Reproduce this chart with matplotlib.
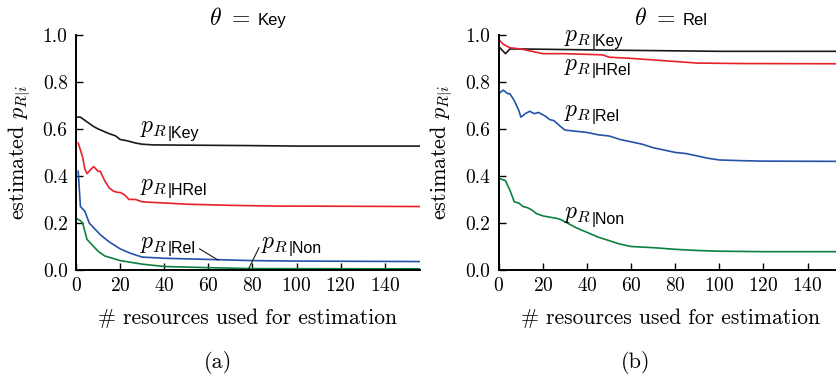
import numpy as np
import matplotlib
matplotlib.use("Agg")
import matplotlib.pyplot as plt

plt.rcParams['font.family'] = 'serif'
plt.rcParams['font.serif'] = ['cmr10', 'DejaVu Serif']
plt.rcParams['mathtext.fontset'] = 'cm'
plt.rcParams['axes.formatter.use_mathtext'] = True

# panel (a): theta = Key
a_key_x = [0, 2, 5, 8, 10, 15, 18, 20, 23, 27, 30, 35, 50, 80, 100, 156]
a_key_y = [0.65, 0.65, 0.63, 0.61, 0.60, 0.58, 0.57, 0.555, 0.55, 0.54, 0.535, 0.532, 0.531, 0.529, 0.527, 0.527]
a_hrel_x = [1, 2, 3, 4, 5, 6, 8, 10, 11, 13, 15, 17, 19, 20, 22, 24, 27, 30, 40, 50, 70, 90, 156]
a_hrel_y = [0.54, 0.51, 0.48, 0.43, 0.41, 0.42, 0.44, 0.42, 0.42, 0.38, 0.35, 0.335, 0.33, 0.33, 0.32, 0.30, 0.30, 0.29, 0.285, 0.28, 0.275, 0.272, 0.27]
a_rel_x = [1, 2, 4, 6, 8, 11, 15, 20, 25, 30, 40, 60, 80, 100, 156]
a_rel_y = [0.42, 0.27, 0.25, 0.20, 0.18, 0.15, 0.12, 0.09, 0.07, 0.055, 0.05, 0.045, 0.04, 0.038, 0.036]
a_non_x = [0, 2, 3, 5, 8, 10, 13, 20, 30, 40, 60, 80, 156]
a_non_y = [0.22, 0.21, 0.20, 0.13, 0.10, 0.08, 0.06, 0.04, 0.025, 0.015, 0.01, 0.006, 0.005]

# panel (b): theta = Rel
b_key_x = [0, 2, 3, 5, 10, 50, 100, 156]
b_key_y = [0.95, 0.93, 0.92, 0.94, 0.94, 0.935, 0.93, 0.93]
b_hrel_x = [0, 2, 5, 10, 15, 20, 30, 47, 50, 60, 75, 90, 110, 156]
b_hrel_y = [0.98, 0.96, 0.945, 0.94, 0.93, 0.92, 0.92, 0.915, 0.905, 0.90, 0.89, 0.88, 0.878, 0.877]
b_rel_x = [0, 2, 4, 5, 7, 9, 10, 12, 14, 16, 18, 21, 23, 25, 28, 30, 35, 40, 45, 50, 55, 60, 65, 70, 75, 80, 85, 90, 95, 100, 110, 120, 156]
b_rel_y = [0.75, 0.765, 0.75, 0.75, 0.72, 0.68, 0.65, 0.665, 0.675, 0.665, 0.67, 0.655, 0.64, 0.635, 0.61, 0.595, 0.59, 0.585, 0.575, 0.57, 0.555, 0.545, 0.535, 0.52, 0.51, 0.50, 0.495, 0.485, 0.475, 0.468, 0.465, 0.463, 0.462]
b_non_x = [0, 3, 5, 7, 9, 11, 13, 15, 17, 20, 23, 26, 28, 31, 35, 40, 45, 50, 55, 60, 70, 80, 90, 100, 120, 156]
b_non_y = [0.39, 0.38, 0.34, 0.29, 0.285, 0.27, 0.265, 0.255, 0.24, 0.23, 0.225, 0.22, 0.215, 0.20, 0.18, 0.16, 0.14, 0.125, 0.11, 0.10, 0.095, 0.088, 0.083, 0.08, 0.078, 0.078]

xticks = [0, 20, 40, 60, 80, 100, 120, 140]
yticks = [0.0, 0.2, 0.4, 0.6, 0.8, 1.0]

c_key, c_hrel, c_rel, c_non = '#1a1a1a', '#e8202a', '#2553a8', '#0d8040'
sans = 'Liberation Sans'

fig = plt.figure(figsize=(8.37, 3.83), dpi=100)
ax1 = fig.add_axes([0.0908, 0.295, 0.411, 0.614])
ax2 = fig.add_axes([0.596, 0.295, 0.411, 0.614])


def style(ax, title, tx, tx2):
    ax.set_xlim(0, 156)
    ax.set_ylim(0, 1.0)
    ax.set_xticks(xticks)
    ax.set_yticks(yticks)
    ax.set_yticklabels(['%.1f' % v for v in yticks])
    ax.tick_params(direction='in', length=5, width=1, labelsize=14)
    ax.tick_params(axis='x', pad=5)
    ax.tick_params(axis='y', pad=6)
    for s in ['top', 'right']:
        ax.spines[s].set_visible(False)
    for s in ['left', 'bottom']:
        ax.spines[s].set_linewidth(1.4)
    ax.set_xlabel('# resources used for estimation', fontsize=15.5, labelpad=10)
    ax.set_ylabel(r'estimated $p_{R|i}$', fontsize=16, labelpad=8)
    ax.text(tx, 1.043, r'$\theta\ =$', fontsize=17, ha='right', va='baseline',
            transform=ax.transAxes)
    ax.text(tx2, 1.043, title, fontsize=12, ha='left', va='baseline',
            family=sans, transform=ax.transAxes)


def label(ax, x, y, name):
    t = ax.text(x, y, r'$p_R$', fontsize=17, va='baseline')
    ax.annotate('|' + name, xy=(1, 0), xycoords=t, xytext=(0.3, 1.2),
                textcoords='offset points', fontsize=11.5, family=sans,
                va='baseline', ha='left')


lw = 1.2
ax1.plot(a_key_x, a_key_y, color=c_key, lw=lw)
ax1.plot(a_hrel_x, a_hrel_y, color=c_hrel, lw=lw)
ax1.plot(a_rel_x, a_rel_y, color=c_rel, lw=lw)
ax1.plot(a_non_x, a_non_y, color=c_non, lw=lw)
style(ax1, 'Key', 0.506, 0.529)
label(ax1, 29, 0.585, 'Key')
label(ax1, 29, 0.34, 'HRel')
label(ax1, 29, 0.095, 'Rel')
label(ax1, 84, 0.095, 'Non')
ax1.plot([56, 64.5], [0.09, 0.042], color='#1a1a1a', lw=0.8)
ax1.plot([83, 78], [0.095, 0.0], color='#1a1a1a', lw=0.8)

ax2.plot(b_key_x, b_key_y, color=c_key, lw=lw)
ax2.plot(b_hrel_x, b_hrel_y, color=c_hrel, lw=lw)
ax2.plot(b_rel_x, b_rel_y, color=c_rel, lw=lw)
ax2.plot(b_non_x, b_non_y, color=c_non, lw=lw)
style(ax2, 'Rel', 0.512, 0.535)
label(ax2, 29.5, 0.975, 'Key')
label(ax2, 29.5, 0.85, 'HRel')
label(ax2, 29.5, 0.655, 'Rel')
label(ax2, 29.5, 0.22, 'Non')

fig.text(218 / 837, 1 - 362 / 383, '(a)', fontsize=16, ha='center', va='center')
fig.text(636 / 837, 1 - 362 / 383, '(b)', fontsize=16, ha='center', va='center')

fig.savefig('out.png', dpi=100)
